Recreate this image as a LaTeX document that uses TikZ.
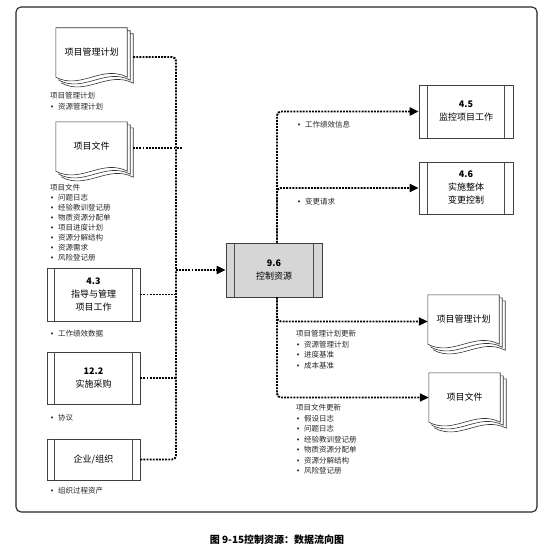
\documentclass[tikz,border=0pt]{standalone}
\usepackage{fontspec}
\setmainfont{Noto Sans CJK SC}
\newfontfamily\bulfont{DejaVu Sans}
\usetikzlibrary{arrows.meta,backgrounds}
\newcommand\bul{\makebox[8pt][l]{\bulfont\fontsize{7}{7}\selectfont •}}
\newcommand\docshape[1]{%
  \foreach \o in {6,3,0}{%
    \path[docline] ([shift={(\o,\o)}]#1.north west) -- ([shift={(\o,\o)}]#1.north east)
      -- ([shift={(\o,\o)}]#1.south east)
      .. controls ([shift={(\o-25,\o-13)}]#1.south east) and ([shift={(\o+25,\o+13)}]#1.south west)
      .. ([shift={(\o,\o)}]#1.south west) -- cycle;
  }}
\newcommand\procbars[2]{%
  \draw[barline] ([xshift=#2]#1.north west) -- ([xshift=#2]#1.south west);
  \draw[barline] ([xshift=-#2]#1.north east) -- ([xshift=-#2]#1.south east);}
\begin{document}
\begin{tikzpicture}[x=1pt,y=-1pt,
  frame/.style={draw=black!85, line width=1.1pt, rounded corners=5pt},
  proc/.style={draw=black!75, line width=0.7pt, fill=white, minimum width=93pt, minimum height=53pt, inner sep=0pt, align=center, font=\fontsize{9}{13}\selectfont},
  barline/.style={draw=black!70, line width=0.6pt},
  docnode/.style={minimum width=71pt, minimum height=49pt, inner sep=0pt, align=center, font=\fontsize{9}{13}\selectfont},
  docline/.style={draw=black!80, line width=0.6pt, fill=white},
  lbl/.style={anchor=north west, inner sep=0pt, align=left, font=\fontsize{7.5}{10.5}\selectfont, text=black!85},
  flowline/.style={line width=1.9pt, dash pattern=on 1.9pt off 1.2pt, rounded corners=4pt},
  flow/.style={flowline, -{Triangle[length=9pt,width=8pt]}},
  ]
\useasboundingbox (0,0) rectangle (544,551);
\draw[frame] (16,7) rectangle (537,512);

% left documents
\node[docnode] (pmpA) at (91.5,52.5) {项目管理计划};
\node[docnode] (pdA) at (91.5,146.5) {项目文件};
% right documents
\node[docnode] (pmpB) at (463.5,319.5) {项目管理计划};
\node[docnode] (pdB) at (464.5,397.5) {项目文件};
\begin{scope}[on background layer]
  \docshape{pmpA}
  \docshape{pdA}
  \docshape{pmpB}
  \docshape{pdB}
\end{scope}

% process boxes
\node[proc] (dm) at (93.5,294.5) {\textbf{4.3}\\指导与管理\\项目工作};
\node[proc, minimum height=52pt] (cp) at (93.5,378) {\textbf{12.2}\\实施采购};
\node[proc, minimum height=41pt] (eo) at (93.5,459.5) {企业/组织};
\node[proc, fill=black!16, minimum width=96pt, minimum height=54pt] (cr) at (274,270) {\textbf{9.6}\\控制资源};
\node[proc, minimum width=94pt] (mc) at (466,111.5) {\textbf{4.5}\\监控项目工作};
\node[proc, minimum width=94pt, minimum height=52pt] (ic) at (466,188) {\textbf{4.6}\\实施整体\\变更控制};
\procbars{dm}{8pt}
\procbars{cp}{8pt}
\procbars{eo}{8pt}
\procbars{cr}{9pt}
\procbars{mc}{9pt}
\procbars{ic}{9pt}

% labels
\node[lbl] (l1) at (50,92) {项目管理计划\\\bul 资源管理计划};
\node[lbl, font=\fontsize{7.5}{10}\selectfont] (l2) at (50,184) {项目文件\\\bul 问题日志\\\bul 经验教训登记册\\\bul 物质资源分配单\\\bul 项目进度计划\\\bul 资源分解结构\\\bul 资源需求\\\bul 风险登记册};
\node[lbl] (l3) at (50,330) {\bul 工作绩效数据};
\node[lbl] (l4) at (50,414) {\bul 协议};
\node[lbl] (l5) at (50,487) {\bul 组织过程资产};
\node[lbl] (r1) at (297,121) {\bul 工作绩效信息};
\node[lbl] (r2) at (297,198) {\bul 变更请求};
\node[lbl] (r3) at (296,330) {项目管理计划更新\\\bul 资源管理计划\\\bul 进度基准\\\bul 成本基准};
\node[lbl] (r4) at (296,404) {项目文件更新\\\bul 假设日志\\\bul 问题日志\\\bul 经验教训登记册\\\bul 物质资源分配单\\\bul 资源分解结构\\\bul 风险登记册};

% input connectors
\coordinate (jin) at (176,270);
\draw[flowline] ([shift={(6,4.5)}]pmpA.east) -| (jin);
\draw[flowline] ([shift={(6,1.5)}]pdA.east) -- ([shift={(6,1.5)}]pdA.east -| jin);
\draw[flowline] (dm.east) -- (dm.east -| jin);
\draw[flowline] (cp.east) -- (cp.east -| jin);
\draw[flowline] (eo.east) -| (jin);
\draw[flow] (jin) -- (cr.west);

% output connectors
\draw[flow] ([xshift=3pt]cr.north) |- (mc.west);
\draw[flow] ([xshift=3pt]cr.north) |- (ic.west);
\draw[flow] ([xshift=3pt]cr.south) |- ([yshift=-2pt]pmpB.west);
\draw[flow] ([xshift=3pt]cr.south) |- (pdB.west);

% caption
\node[font=\bfseries\fontsize{10}{12}\selectfont] (cap) at (277,540) {图 9-15控制资源：数据流向图};
\end{tikzpicture}
\end{document}
